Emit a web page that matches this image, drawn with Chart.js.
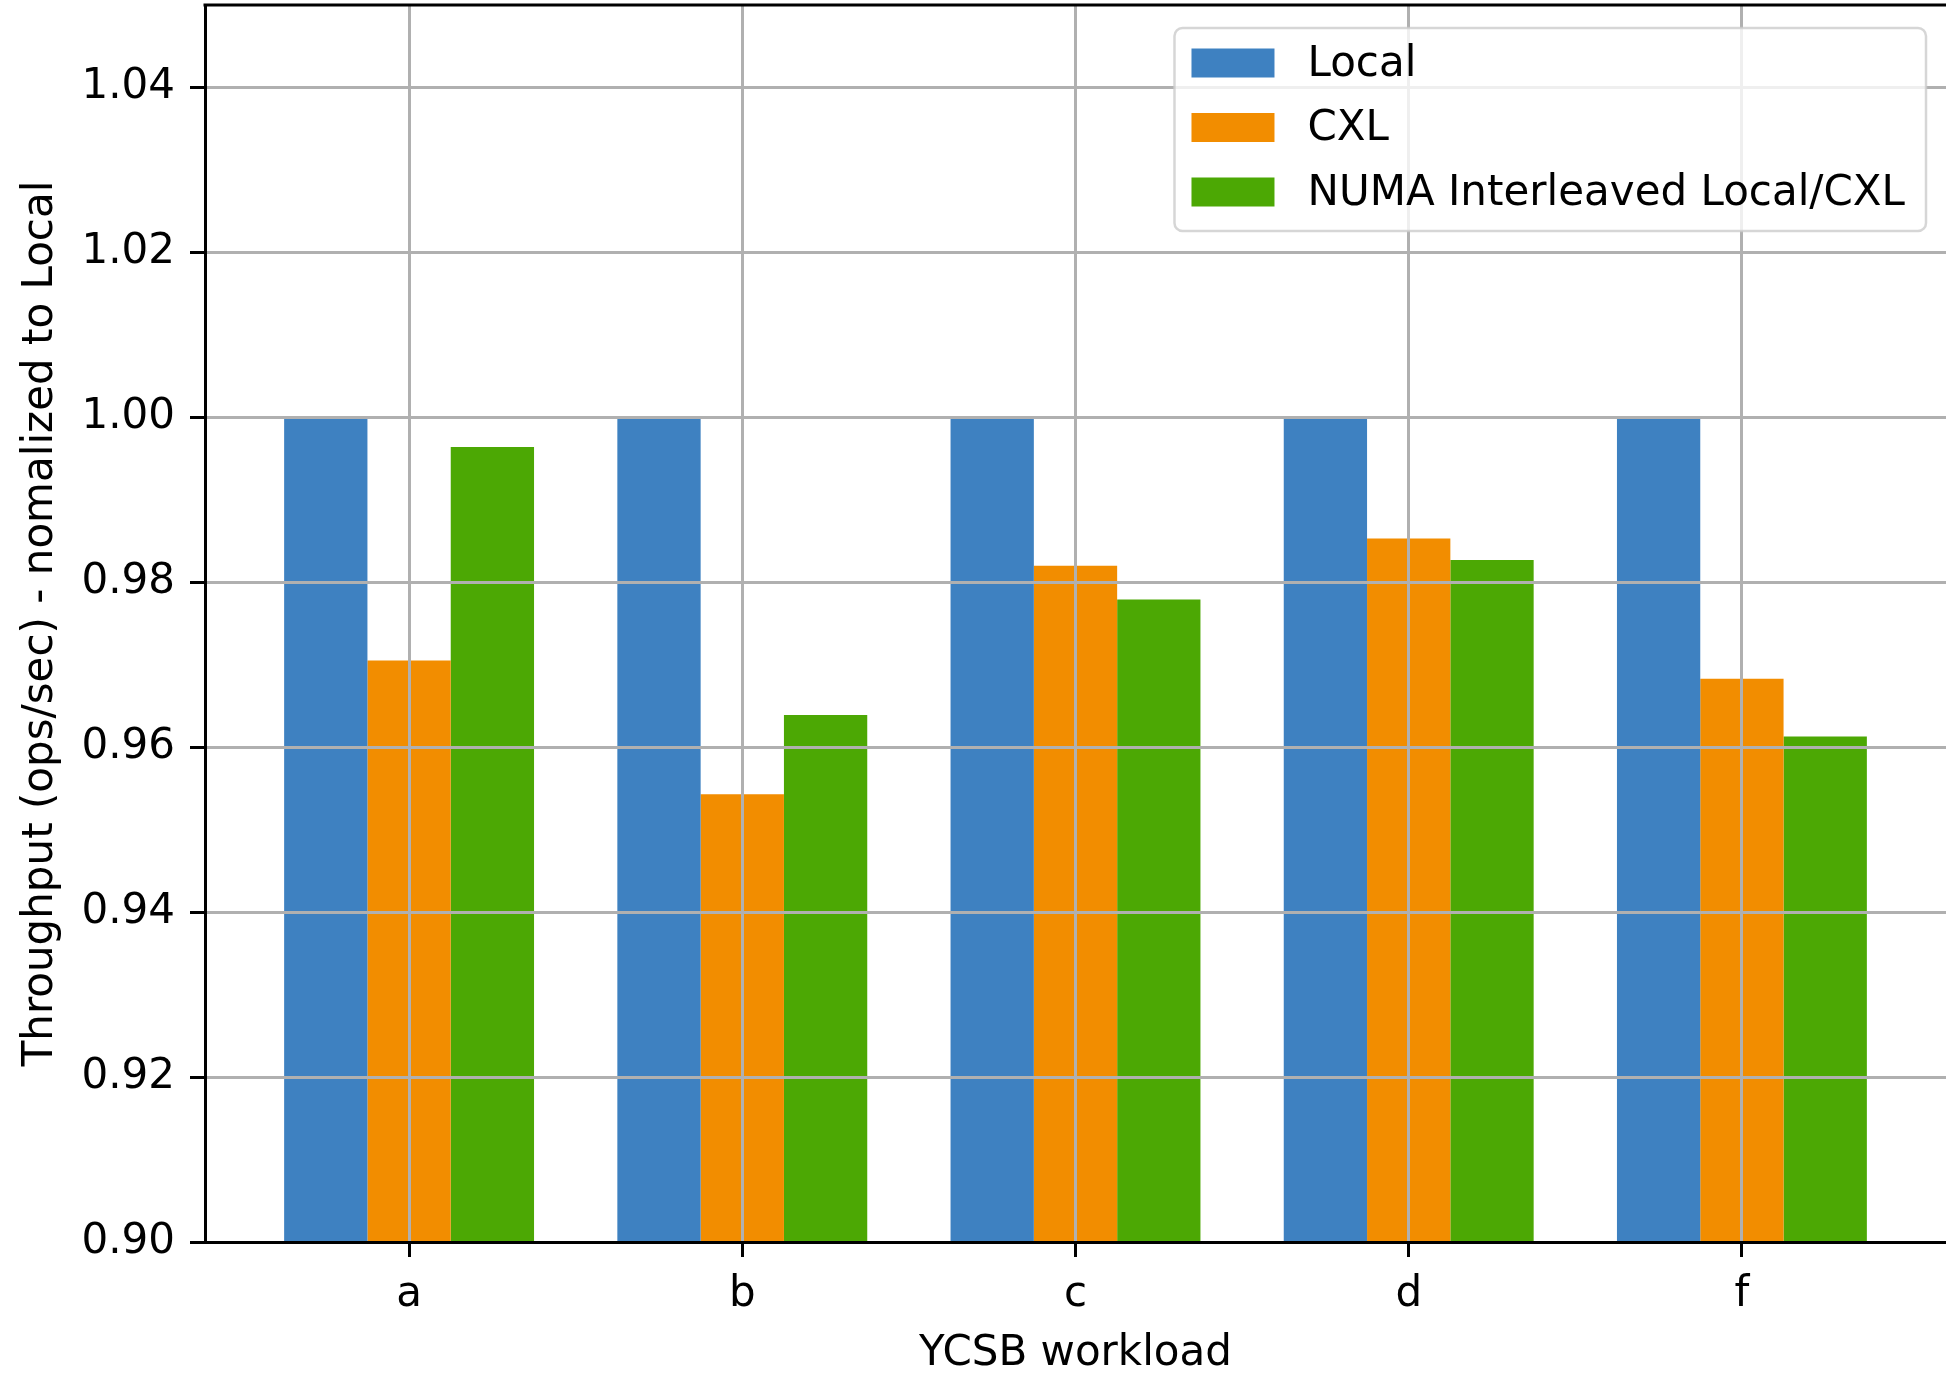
<!DOCTYPE html>
<html lang="en">
<head>
<meta charset="utf-8">
<title>YCSB workload throughput</title>
<script src="https://cdn.jsdelivr.net/npm/chart.js@4.4.1/dist/chart.umd.min.js"></script>
<style>
  html, body { margin: 0; padding: 0; background: #fff; }
  #chart { display: block; }
</style>
</head>
<body>
<canvas id="chart" width="1946" height="1375"></canvas>
<script>
const workloads = ['a', 'b', 'c', 'd', 'f'];
const localValues = [1.0, 1.0, 1.0, 1.0, 1.0];
const cxlValues = [0.9705, 0.9543, 0.9820, 0.9853, 0.9683];
const interleavedValues = [0.9964, 0.9639, 0.9779, 0.9827, 0.9613];
const yTicks = [0.90, 0.92, 0.94, 0.96, 0.98, 1.00, 1.02, 1.04];

const FONT = 'DejaVu Sans';
const FONT_SIZE = 42;

Chart.defaults.font.family = FONT;
Chart.defaults.font.size = FONT_SIZE;
Chart.defaults.color = '#000';

const toPoints = values => values.map((y, x) => ({ x, y }));

function roundedRect(ctx, x, y, w, h, r) {
  ctx.beginPath();
  ctx.moveTo(x + r, y);
  ctx.arcTo(x + w, y, x + w, y + h, r);
  ctx.arcTo(x + w, y + h, x, y + h, r);
  ctx.arcTo(x, y + h, x, y, r);
  ctx.arcTo(x, y, x + w, y, r);
  ctx.closePath();
}

// no extra room for half tick labels, the plot box is pinned by hand
function noLabelPadding(scale) {
  scale.paddingTop = 0;
  scale.paddingBottom = 0;
  scale.paddingLeft = 0;
  scale.paddingRight = 0;
}

// top spine, the right one falls off the canvas like in the original
const topSpine = {
  id: 'topSpine',
  afterDraw(chart) {
    const { ctx, chartArea } = chart;
    ctx.save();
    ctx.strokeStyle = '#000';
    ctx.lineWidth = 3;
    ctx.beginPath();
    ctx.moveTo(chartArea.left - 1.5, chartArea.top);
    ctx.lineTo(chartArea.right, chartArea.top);
    ctx.stroke();
    ctx.restore();
  }
};

// matplotlib style legend box in the upper right corner of the plot
const insetLegend = {
  id: 'insetLegend',
  afterDraw(chart) {
    const { ctx, chartArea } = chart;
    const items = chart.data.datasets.map(ds => ({ label: ds.label, color: ds.backgroundColor }));
    ctx.save();
    ctx.font = `${FONT_SIZE}px "${FONT}"`;
    const textWidth = Math.max(...items.map(it => ctx.measureText(it.label).width));
    const pad = 17, handleW = 83, handleH = 29, gap = 33, rowStep = 64.5;
    const boxW = pad + handleW + gap + textWidth + pad + 4;
    const boxH = 203;
    const right = chartArea.right - 20;
    const left = right - boxW;
    const top = chartArea.top + 23;

    roundedRect(ctx, left, top, boxW, boxH, 8);
    ctx.fillStyle = 'rgba(255,255,255,0.8)';
    ctx.fill();
    ctx.lineWidth = 2.5;
    ctx.strokeStyle = 'rgba(204,204,204,0.8)';
    ctx.stroke();

    items.forEach((it, i) => {
      const cy = top + 35 + i * rowStep;
      ctx.fillStyle = it.color;
      ctx.fillRect(left + pad, cy - handleH / 2, handleW, handleH);
      ctx.fillStyle = '#000';
      ctx.textAlign = 'left';
      ctx.textBaseline = 'middle';
      ctx.fillText(it.label, left + pad + handleW + gap, cy + 2);
    });
    ctx.restore();
  }
};

new Chart(document.getElementById('chart'), {
  type: 'bar',
  data: {
    datasets: [
      { label: 'Local', data: toPoints(localValues), backgroundColor: '#3e81c1' },
      { label: 'CXL', data: toPoints(cxlValues), backgroundColor: '#f28d00' },
      { label: 'NUMA Interleaved Local/CXL', data: toPoints(interleavedValues), backgroundColor: '#4ca804' }
    ]
  },
  options: {
    responsive: false,
    animation: false,
    devicePixelRatio: 1,
    categoryPercentage: 0.75,
    barPercentage: 1.0,
    layout: { padding: { top: 5, right: 0, left: 0, bottom: 0 } },
    plugins: {
      legend: { display: false },
      tooltip: { enabled: false }
    },
    scales: {
      x: {
        type: 'linear',
        min: -0.6125,
        max: 4.6125,
        offset: false,
        afterBuildTicks: scale => { scale.ticks = workloads.map((_, i) => ({ value: i })); },
        afterFit: scale => { scale.height = 133; noLabelPadding(scale); },
        ticks: {
          padding: 13,
          autoSkip: false,
          maxRotation: 0,
          callback: value => workloads[value] ?? ''
        },
        grid: {
          offset: false,
          color: '#b0b0b0',
          lineWidth: 3,
          tickColor: '#000',
          tickLength: 15,
          tickWidth: 3,
          z: 1
        },
        border: { display: true, color: '#000', width: 3, z: 2 },
        title: {
          display: true,
          text: 'YCSB workload',
          font: { lineHeight: 1.0 },
          padding: { top: 0, bottom: 0 }
        }
      },
      y: {
        min: 0.9,
        max: 1.05,
        afterBuildTicks: scale => { scale.ticks = yTicks.map(value => ({ value })); },
        afterFit: scale => { scale.width = 205; noLabelPadding(scale); },
        ticks: {
          padding: 15,
          callback: value => value.toFixed(2)
        },
        grid: {
          color: '#b0b0b0',
          lineWidth: 3,
          tickColor: '#000',
          tickLength: 15,
          tickWidth: 3,
          z: 1
        },
        border: { display: true, color: '#000', width: 3, z: 2 },
        title: {
          display: true,
          text: 'Throughput (ops/sec) - nomalized to Local',
          padding: { top: 16, bottom: 0 }
        }
      }
    }
  },
  plugins: [topSpine, insetLegend]
});
</script>
</body>
</html>
